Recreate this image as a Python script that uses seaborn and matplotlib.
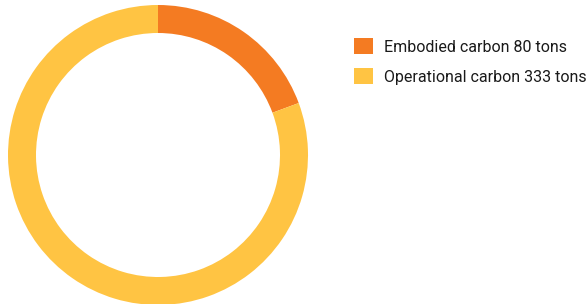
import matplotlib
matplotlib.use("Agg")
import matplotlib.pyplot as plt
import seaborn as sns
from matplotlib.patches import Patch

# data
labels = ["Embodied carbon 80 tons", "Operational carbon 333 tons"]
values = [80, 333]
colors = ["#F47B22", "#FFC443"]

sns.set_theme(style="white")
plt.rcParams['font.family'] = ['Roboto', 'DejaVu Sans']

fig = plt.figure(figsize=(5.87, 3.04), dpi=100)
ax = fig.add_axes([8 / 587, -1 / 304, 300 / 587, 300 / 304])

ax.pie(values, colors=colors, startangle=90, counterclock=False,
       radius=1.0, wedgeprops=dict(width=28 / 150, linewidth=0))
ax.set_xlim(-1, 1)
ax.set_ylim(-1, 1)
ax.set_aspect("equal")
ax.axis("off")

handles = [Patch(facecolor=c, edgecolor="none", label=l) for c, l in zip(colors, labels)]
fig.legend(handles=handles, loc="upper left", bbox_to_anchor=(340 / 587, 1 - 24 / 304),
           frameon=False, fontsize=11.5, handlelength=1.15, handleheight=1.15,
           handletextpad=0.7, labelspacing=0.85, labelcolor="#1a1a1a")

fig.savefig("out.png", dpi=100)
